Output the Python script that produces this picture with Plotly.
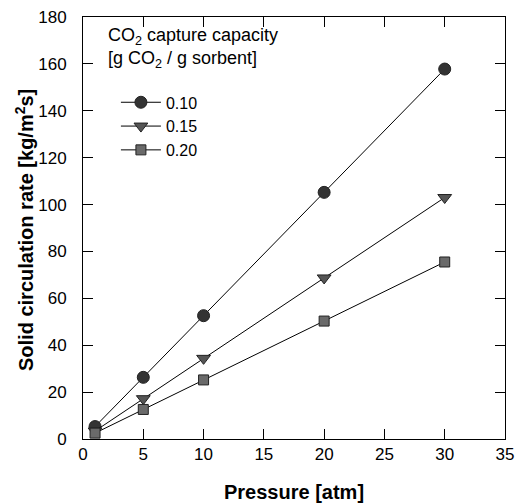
import plotly.graph_objects as go

pressure = [1, 5, 10, 20, 30]
rate_010 = [5.3, 26.3, 52.6, 105.2, 157.8]
rate_015 = [3.4, 17.2, 34.4, 68.7, 103.0]
rate_020 = [2.5, 12.6, 25.2, 50.3, 75.5]
labels = ["0.10", "0.15", "0.20"]

fig = go.Figure()
styles = [
    ("circle", "#333333", 12),
    ("triangle-down", "#555555", 12),
    ("square", "#6a6a6a", 10),
]
for ys, lab, (sym, col, sz) in zip([rate_010, rate_015, rate_020], labels, styles):
    fig.add_trace(go.Scatter(
        x=pressure, y=ys, name=lab, mode="lines+markers",
        line=dict(color="black", width=1),
        marker=dict(symbol=sym, color=col, size=sz, line=dict(color="#222222", width=1)),
    ))

fig.add_annotation(
    x=0.055, y=0.985, xref="paper", yref="paper", xanchor="left", yanchor="top",
    text="CO<sub>2</sub> capture capacity<br>[g CO<sub>2</sub> / g sorbent]",
    showarrow=False, align="left",
    font=dict(family="Liberation Sans, Arial", size=18, color="black"),
)
# axis titles
fig.add_annotation(
    x=0.5, y=-0.1256, xref="paper", yref="paper", xanchor="center", yanchor="middle",
    text="<b>Pressure [atm]</b>", showarrow=False,
    font=dict(family="Liberation Sans, Arial", size=20, color="black"),
)
fig.add_annotation(
    x=-0.14, y=0.495, xref="paper", yref="paper", xanchor="center", yanchor="middle",
    text="<b>Solid circulation rate [kg/m<sup>2</sup>s]</b>", showarrow=False, textangle=-90,
    font=dict(family="Liberation Sans, Arial", size=20, color="black"),
)

fig.update_layout(
    width=524, height=504,
    margin=dict(l=83, r=19, t=17, b=65),
    paper_bgcolor="white", plot_bgcolor="white",
    font=dict(family="Liberation Sans, Arial", size=17, color="black"),
    showlegend=True,
    legend=dict(x=0.078, y=0.838, xanchor="left", yanchor="top",
                bgcolor="rgba(0,0,0,0)", font=dict(size=16), itemwidth=40,
                tracegroupgap=0),
    xaxis=dict(
        range=[0, 35], tickvals=[0, 5, 10, 15, 20, 25, 30, 35],
        ticks="inside", ticklen=10, tickcolor="black", mirror="ticks",
        ticklabelstandoff=0, automargin=False,
        showline=True, linecolor="black", linewidth=1, showgrid=False, zeroline=False,
    ),
    yaxis=dict(
        range=[0, 180], tickvals=list(range(0, 181, 20)),
        ticks="inside", ticklen=10, tickcolor="black", mirror="ticks",
        ticklabelstandoff=12, automargin=False,
        showline=True, linecolor="black", linewidth=1, showgrid=False, zeroline=False,
    ),
)

fig.write_html("out.html")
